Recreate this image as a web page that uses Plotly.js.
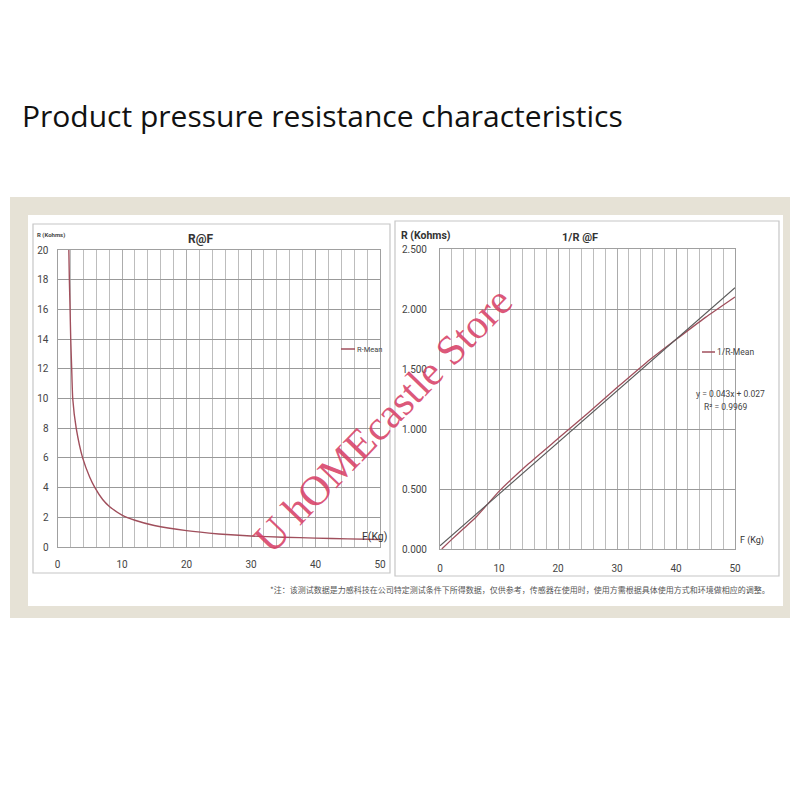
<!DOCTYPE html>
<html>
<head>
<meta charset="utf-8">
<script src="https://cdn.plot.ly/plotly-3.0.1.min.js"></script>
<style>html,body{margin:0;padding:0;background:#fff;}#chart{width:800px;height:800px;}</style>
</head>
<body>
<div id="chart"></div>
<script>
// ---- data ----
const F_R = [1.76, 1.84, 1.95, 2.05, 2.2, 2.36, 2.9, 3.9, 5, 5.8, 7, 8, 10, 12, 15, 20, 25, 30, 35, 40, 45, 50];
const R_mean = [20, 18, 16, 14, 12, 10, 8, 6, 4.7, 4.0, 3.2, 2.75, 2.15, 1.8, 1.45, 1.1, 0.88, 0.74, 0.66, 0.6, 0.55, 0.51];

const F_inv = [0.3, 2, 4, 6, 8, 10, 15, 20, 25, 30, 35, 40, 45, 50];
const invR_mean = [0.0, 0.08, 0.17, 0.26, 0.37, 0.48, 0.71, 0.92, 1.13, 1.345, 1.555, 1.745, 1.93, 2.10];

const trendX = [0, 50];
const trendY = [0.027, 2.177];

const xTicksVals = [0, 10, 20, 30, 40, 50];
const leftYTicks = [0, 2, 4, 6, 8, 10, 12, 14, 16, 18, 20];
const rightYTicks = [0, 0.5, 1.0, 1.5, 2.0, 2.5];

const mainTitle = "Product pressure resistance characteristics";
const leftTitle = "R@F";
const rightTitle = "1/R @F";
const leftYLabel = "R (Kohms)";
const rightYLabel = "R (Kohms)";
const leftXLabel = "F(Kg)";
const rightXLabel = "F (Kg)";
const leftLegend = "R-Mean";
const rightLegend = "1/R-Mean";
const eqText = "y = 0.043x + 0.027";
const r2Text = "R² = 0.9969";
const footnote = "*注：该测试数据是力感科技在公司特定测试条件下所得数据，仅供参考，传感器在使用时，使用方需根据具体使用方式和环境做相应的调整。";
const watermark = "U hOMEcastle Store";

// ---- helpers (pixel -> paper) ----
const W = 800, H = 800;
const px = v => v / W;
const py = v => 1 - v / H;

const curveColor = '#a04f5c';
const trendColor = '#5a5a5a';
const tickFont = {family: 'Roboto, Liberation Sans, sans-serif', size: 10, color: '#444'};

const traces = [
  {x: F_R, y: R_mean, xaxis: 'x', yaxis: 'y', mode: 'lines', line: {color: curveColor, width: 1.4, shape: 'spline', smoothing: 0.5}, showlegend: false, hoverinfo: 'skip'},
  {x: F_inv, y: invR_mean, xaxis: 'x2', yaxis: 'y2', mode: 'lines', line: {color: curveColor, width: 1.3, shape: 'spline', smoothing: 0.4}, showlegend: false, hoverinfo: 'skip'},
  {x: trendX, y: trendY, xaxis: 'x2', yaxis: 'y2', mode: 'lines', line: {color: trendColor, width: 1.1}, showlegend: false, hoverinfo: 'skip'}
];

function xAxis(domain, standoff) {
  return {
    domain: domain, range: [0, 50], tickvals: xTicksVals, ticktext: xTicksVals.map(String),
    showgrid: true, gridcolor: '#acacac', gridwidth: 1,
    minor: {dtick: 2, tick0: 0, showgrid: true, gridcolor: '#bdbdbd', gridwidth: 1},
    showline: true, mirror: true, linecolor: '#a0a0a0', linewidth: 1,
    zeroline: false, ticks: '', tickfont: tickFont, ticklabelstandoff: standoff, fixedrange: true
  };
}

const layout = {
  width: W, height: H,
  margin: {l: 0, r: 0, t: 0, b: 0},
  paper_bgcolor: '#ffffff', plot_bgcolor: 'rgba(0,0,0,0)',
  showlegend: false,
  xaxis: Object.assign(xAxis([px(57.5), px(380)], 8), {anchor: 'y'}),
  yaxis: {
    anchor: 'x', domain: [py(547), py(250)], range: [0, 20], tickvals: leftYTicks,
    showgrid: true, gridcolor: '#999999', gridwidth: 1,
    showline: true, mirror: true, linecolor: '#a0a0a0', zeroline: false, ticks: '',
    tickfont: tickFont, ticklabelstandoff: 6, fixedrange: true
  },
  xaxis2: Object.assign(xAxis([px(440), px(735)], 10), {anchor: 'y2'}),
  yaxis2: {
    anchor: 'x2', domain: [py(549), py(249)], range: [0, 2.5], tickvals: rightYTicks, tickformat: '.3f',
    showgrid: true, gridcolor: '#999999', gridwidth: 1,
    showline: true, mirror: true, linecolor: '#a0a0a0', zeroline: false, ticks: '',
    tickfont: tickFont, ticklabelstandoff: 10, fixedrange: true
  },
  shapes: [
    {type: 'rect', xref: 'paper', yref: 'paper', x0: px(10), x1: px(790), y0: py(618), y1: py(197), fillcolor: '#e6e2d6', line: {width: 0}, layer: 'below'},
    {type: 'rect', xref: 'paper', yref: 'paper', x0: px(28), x1: px(783), y0: py(606), y1: py(215), fillcolor: '#ffffff', line: {width: 0}, layer: 'below'},
    {type: 'rect', xref: 'paper', yref: 'paper', x0: px(33), x1: px(390), y0: py(573), y1: py(224), fillcolor: 'rgba(0,0,0,0)', line: {color: '#c6c6c6', width: 1.2}, layer: 'below'},
    {type: 'rect', xref: 'paper', yref: 'paper', x0: px(395), x1: px(779), y0: py(576), y1: py(221), fillcolor: 'rgba(0,0,0,0)', line: {color: '#c6c6c6', width: 1.2}, layer: 'below'},
    // legend samples
    {type: 'line', xref: 'paper', yref: 'paper', x0: px(341), x1: px(355), y0: py(349), y1: py(349), line: {color: curveColor, width: 1.5}},
    {type: 'line', xref: 'paper', yref: 'paper', x0: px(702), x1: px(715), y0: py(352), y1: py(352), line: {color: curveColor, width: 1.5}}
  ],
  annotations: [
    {text: mainTitle, xref: 'paper', yref: 'paper', x: px(20), y: py(115), xanchor: 'left', yanchor: 'middle', showarrow: false,
     font: {family: 'Open Sans, sans-serif', size: 30, color: '#111'}},
    {text: leftTitle, xref: 'paper', yref: 'paper', x: px(200), y: py(239), xanchor: 'center', yanchor: 'middle', showarrow: false,
     font: {family: 'Roboto, sans-serif', size: 12, color: '#333', weight: 'bold'}},
    {text: rightTitle, xref: 'paper', yref: 'paper', x: px(580), y: py(237), xanchor: 'center', yanchor: 'middle', showarrow: false,
     font: {family: 'Roboto, sans-serif', size: 11, color: '#333', weight: 'bold'}},
    {text: leftYLabel, xref: 'paper', yref: 'paper', x: px(35), y: py(235), xanchor: 'left', yanchor: 'middle', showarrow: false,
     font: {family: 'Roboto, sans-serif', size: 6, color: '#444', weight: 'bold'}},
    {text: rightYLabel, xref: 'paper', yref: 'paper', x: px(399), y: py(236), xanchor: 'left', yanchor: 'middle', showarrow: false,
     font: {family: 'Roboto, sans-serif', size: 10.5, color: '#333', weight: 'bold'}},
    {text: leftXLabel, xref: 'paper', yref: 'paper', x: px(389), y: py(536), xanchor: 'right', yanchor: 'middle', showarrow: false,
     font: {family: 'Roboto, sans-serif', size: 10.5, color: '#333'}},
    {text: rightXLabel, xref: 'paper', yref: 'paper', x: px(766), y: py(540), xanchor: 'right', yanchor: 'middle', showarrow: false,
     font: {family: 'Roboto, sans-serif', size: 9, color: '#333'}},
    {text: leftLegend, xref: 'paper', yref: 'paper', x: px(355), y: py(349), xanchor: 'left', yanchor: 'middle', showarrow: false,
     font: {family: 'Roboto, sans-serif', size: 7.5, color: '#444'}},
    {text: rightLegend, xref: 'paper', yref: 'paper', x: px(715), y: py(352), xanchor: 'left', yanchor: 'middle', showarrow: false,
     font: {family: 'Roboto, sans-serif', size: 8.5, color: '#444'}},
    {text: eqText, xref: 'paper', yref: 'paper', x: px(767), y: py(394), xanchor: 'right', yanchor: 'middle', showarrow: false,
     font: {family: 'Roboto, sans-serif', size: 8.5, color: '#444'}},
    {text: r2Text, xref: 'paper', yref: 'paper', x: px(750), y: py(407), xanchor: 'right', yanchor: 'middle', showarrow: false,
     font: {family: 'Roboto, sans-serif', size: 8.5, color: '#444'}},
    {text: footnote, xref: 'paper', yref: 'paper', x: px(772), y: py(589), xanchor: 'right', yanchor: 'middle', showarrow: false,
     font: {family: 'Noto Sans CJK SC, sans-serif', size: 8, color: '#555'}},
    {text: watermark, xref: 'paper', yref: 'paper', x: px(383), y: py(420), xanchor: 'center', yanchor: 'middle', showarrow: false,
     textangle: -46, font: {family: 'Liberation Serif, DejaVu Serif, serif', size: 42, color: 'rgba(214,58,98,0.85)'}}
  ]
};

Plotly.newPlot('chart', traces, layout, {staticPlot: true, displayModeBar: false});
</script>
</body>
</html>
